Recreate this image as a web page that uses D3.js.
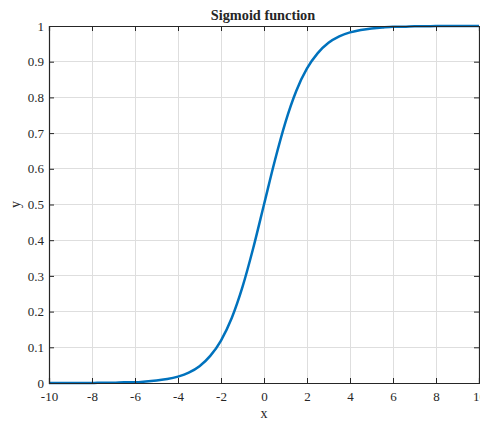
<!DOCTYPE html>
<html><head><meta charset="utf-8">
<script src="https://cdn.jsdelivr.net/npm/d3@7"></script>
<style>body{margin:0;background:#fff}svg{display:block}text{font-family:"Liberation Serif","Times New Roman",serif;fill:#262626}</style>
</head><body>
<script>
const xValues = [-10,-9.5,-9,-8.5,-8,-7.5,-7,-6.5,-6,-5.5,-5,-4.5,-4,-3.5,-3,-2.5,-2,-1.5,-1,-0.5,0,0.5,1,1.5,2,2.5,3,3.5,4,4.5,5,5.5,6,6.5,7,7.5,8,8.5,9,9.5,10];
const yValues = [0.000,0.000,0.000,0.000,0.000,0.001,0.001,0.002,0.002,0.004,0.007,0.011,0.018,0.029,0.047,0.076,0.119,0.182,0.269,0.378,0.500,0.622,0.731,0.818,0.881,0.924,0.953,0.971,0.982,0.989,0.993,0.996,0.998,0.998,0.999,0.999,1.000,1.000,1.000,1.000,1.000];
const xTicks = [-10,-8,-6,-4,-2,0,2,4,6,8,10];
const yTicks = [0,0.1,0.2,0.3,0.4,0.5,0.6,0.7,0.8,0.9,1];
const title = "Sigmoid function", xLabel = "x", yLabel = "y";

const W = 480, H = 421;
const L = 49, R = 479, T = 26, B = 383;
const svg = d3.select("body").append("svg").attr("width", W).attr("height", H);
const x = d3.scaleLinear().domain([-10, 10]).range([L, R]);
const y = d3.scaleLinear().domain([0, 1]).range([B, T]);
const ax = "#262626", grid = "#dedede";
const FONT = "Liberation Serif";

// grid
svg.append("g").selectAll("line").data(xTicks).join("line")
  .attr("x1", d => x(d)).attr("x2", d => x(d)).attr("y1", T).attr("y2", B)
  .attr("stroke", grid).attr("stroke-width", 1).attr("shape-rendering", "crispEdges");
svg.append("g").selectAll("line").data(yTicks).join("line")
  .attr("y1", d => y(d)).attr("y2", d => y(d)).attr("x1", L).attr("x2", R)
  .attr("stroke", grid).attr("stroke-width", 1).attr("shape-rendering", "crispEdges");

// curve
const pts = xValues.map((v, i) => [v, yValues[i]]);
svg.append("path").datum(pts)
  .attr("d", d3.line().x(d => x(d[0])).y(d => y(d[1])).curve(d3.curveMonotoneX))
  .attr("fill", "none").attr("stroke", "#0072BD").attr("stroke-width", 2.5);

// axes
const xAxisB = d3.axisBottom(x).tickValues(xTicks).tickSize(-5).tickPadding(9).tickFormat(d => String(d));
const xAxisT = d3.axisTop(x).tickValues(xTicks).tickSize(-5).tickFormat("");
const yAxisL = d3.axisLeft(y).tickValues(yTicks).tickSize(-5).tickPadding(5).tickFormat(d => String(d));
const yAxisR = d3.axisRight(y).tickValues(yTicks).tickSize(-5).tickFormat("");
function style(g) {
  g.attr("font-family", FONT);
  g.select(".domain").attr("stroke", ax).attr("stroke-width", 1.2);
  g.selectAll(".tick line").attr("stroke", ax).attr("stroke-width", 1);
  g.selectAll("text").attr("font-size", 13).attr("font-family", FONT).attr("fill", ax);
}
svg.append("g").attr("transform", `translate(0,${B})`).call(xAxisB).call(style);
svg.append("g").attr("transform", `translate(0,${T})`).call(xAxisT).call(style);
svg.append("g").attr("transform", `translate(${L},0)`).call(yAxisL).call(style);
svg.append("g").attr("transform", `translate(${R},0)`).call(yAxisR).call(style);

// labels
svg.append("text").attr("x", (L + R) / 2 - 1).attr("y", 20).attr("text-anchor", "middle")
  .attr("font-family", FONT).attr("font-size", 14.3).attr("font-weight", "bold").attr("fill", "#000").text(title);
svg.append("text").attr("x", x(0)).attr("y", 418).attr("text-anchor", "middle")
  .attr("font-family", FONT).attr("font-size", 14).text(xLabel);
svg.append("text").attr("transform", `translate(20,${(T + B) / 2}) rotate(-90)`).attr("text-anchor", "middle")
  .attr("font-family", FONT).attr("font-size", 14).text(yLabel);
</script>
</body></html>
